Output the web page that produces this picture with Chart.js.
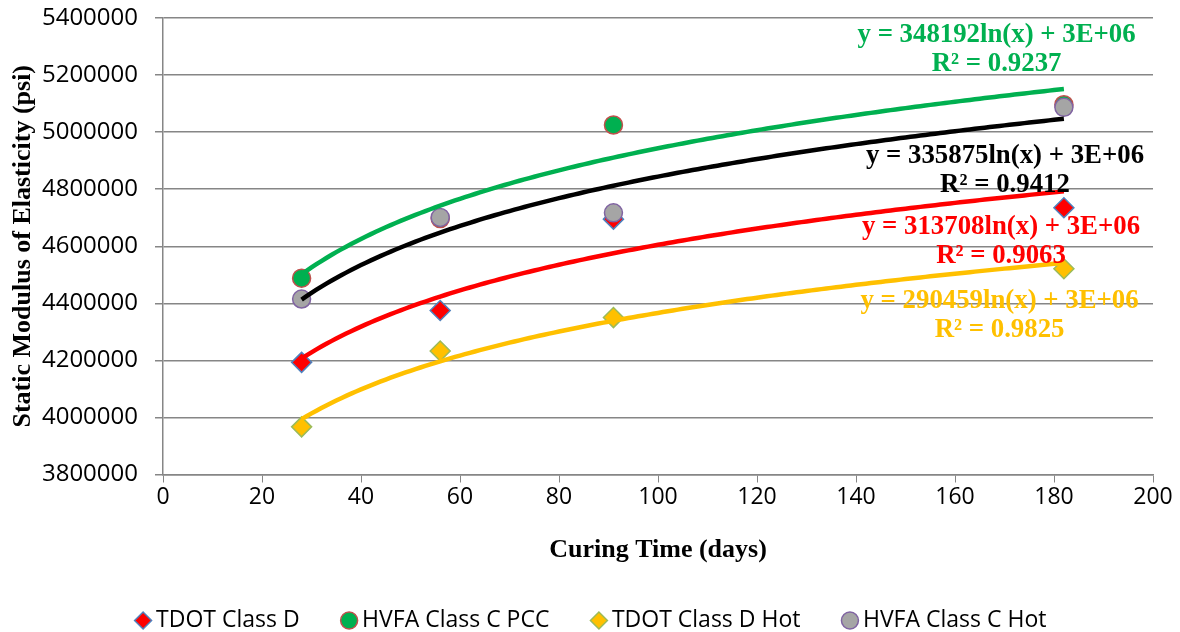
<!DOCTYPE html>
<html>
<head>
<meta charset="utf-8">
<script src="https://cdn.jsdelivr.net/npm/chart.js@4.4.1/dist/chart.umd.min.js"></script>
<style>
html,body{margin:0;padding:0;background:#fff;}
#wrap{width:1180px;height:632px;position:relative;}
</style>
</head>
<body>
<div id="wrap"><canvas id="c" width="1180" height="632"></canvas></div>
<script>
// Curing time (days)
const curingDays = [28, 56, 91, 182];
// Static modulus of elasticity (psi)
const tdotClassD    = [4193000, 4375000, 4695000, 4735000];
const hvfaClassCPCC = [4488000, 4697000, 5025000, 5096000];
const tdotClassDHot = [3967000, 4233000, 4350000, 4521000];
const hvfaClassCHot = [4415000, 4701000, 4717000, 5087000];

const seriesNames = ['TDOT Class D', 'HVFA Class C PCC', 'TDOT Class D Hot', 'HVFA Class C Hot'];
const seriesValues = [tdotClassD, hvfaClassCPCC, tdotClassDHot, hvfaClassCHot];

// Trendline equation labels (as printed on the chart)
const trendLabels = [
  ['y = 313708ln(x) + 3E+06', 'R² = 0.9063'],
  ['y = 348192ln(x) + 3E+06', 'R² = 0.9237'],
  ['y = 290459ln(x) + 3E+06', 'R² = 0.9825'],
  ['y = 335875ln(x) + 3E+06', 'R² = 0.9412']
];
// label anchor positions in data units [day, psi]
const trendLabelAnchors = [[169.3, 4666000], [168.4, 5340000], [169, 4407000], [170.1, 4916000]];

const yTicks = [3800000, 4000000, 4200000, 4400000, 4600000, 4800000, 5000000, 5200000, 5400000];

const markerStyles = [
  {shape:'rectRot', fill:'#FF0000', border:'#4F81BD', r:10},
  {shape:'circle', fill:'#00B050', border:'#C0504D', r:9},
  {shape:'rectRot', fill:'#FFC000', border:'#9BBB59', r:10},
  {shape:'circle', fill:'#A5A5A5', border:'#8064A2', r:9}
];
const trendColors = ['#FF0000', '#00B050', '#FFC000', '#000000'];

// logarithmic least-squares trendline derived from the data
function logFit(xs, ys) {
  const lx = xs.map(Math.log);
  const n = xs.length;
  const mx = lx.reduce((a,b)=>a+b,0)/n;
  const my = ys.reduce((a,b)=>a+b,0)/n;
  let sxy=0, sxx=0;
  for (let i=0;i<n;i++){ sxy+=(lx[i]-mx)*(ys[i]-my); sxx+=(lx[i]-mx)*(lx[i]-mx); }
  const a = sxy/sxx; const b = my - a*mx;
  const pts = [];
  const x0 = Math.min(...xs), x1 = Math.max(...xs);
  for (let x = x0; x <= x1; x += 1) pts.push({x: x, y: a*Math.log(x)+b});
  return pts;
}

const datasets = [];
seriesValues.forEach((vals, i) => {
  const m = markerStyles[i];
  datasets.push({
    label: seriesNames[i],
    data: curingDays.map((d, k) => ({x: d, y: vals[k]})),
    showLine: false,
    pointStyle: m.shape,
    pointRadius: m.r,
    pointHoverRadius: m.r,
    pointBackgroundColor: m.fill,
    pointBorderColor: m.border,
    pointBorderWidth: 1.5,
    backgroundColor: m.fill,
    borderColor: m.border,
    order: 14 - i
  });
});
seriesValues.forEach((vals, i) => {
  datasets.push({
    label: 'trend-' + i,
    data: logFit(curingDays, vals),
    showLine: true,
    pointRadius: 0,
    borderColor: trendColors[i],
    borderWidth: 4.5,
    tension: 0,
    fill: false,
    order: 4 - i
  });
});

const trendLabelPlugin = {
  id: 'trendLabels',
  afterDatasetsDraw(chart) {
    const ctx = chart.ctx;
    const xs = chart.scales.x, ys = chart.scales.y;
    ctx.save();
    ctx.font = 'bold 26.8px "Liberation Serif", "Times New Roman", serif';
    ctx.textAlign = 'center';
    ctx.textBaseline = 'middle';
    trendLabels.forEach((lines, i) => {
      const px = xs.getPixelForValue(trendLabelAnchors[i][0]);
      const py = ys.getPixelForValue(trendLabelAnchors[i][1]);
      ctx.fillStyle = trendColors[i];
      lines.forEach((t, k) => ctx.fillText(t, px, py + k * 29));
    });
    ctx.restore();
  }
};

// center the legend over the whole canvas width (as in the original)
const legendShiftPlugin = {
  id: 'legendShift',
  afterLayout(chart) {
    const lg = chart.legend;
    if (!lg) return;
    const w = lg.right - lg.left;
    lg.left = (chart.width - w) / 2 + 4;
    lg.right = lg.left + w;
  }
};

const gridColor = '#868686';
const tickFont = '"Open Sans", "Liberation Sans", sans-serif';
new Chart(document.getElementById('c'), {
  type: 'scatter',
  data: { datasets },
  options: {
    responsive: false,
    animation: false,
    events: [],
    layout: { padding: { left: 8, right: 27, top: 18, bottom: -10 } },
    plugins: {
      tooltip: { enabled: false },
      legend: {
        position: 'bottom',
        labels: {
          usePointStyle: true,
          boxWidth: 3,
          boxHeight: 12,
          padding: 48,
          color: '#000',
          font: { family: tickFont, size: 23 },
          generateLabels(chart) {
            return chart.data.datasets
              .map((ds, i) => ({
                text: ds.label,
                fillStyle: ds.pointBackgroundColor,
                strokeStyle: ds.pointBorderColor,
                lineWidth: 1.5,
                pointStyle: ds.pointStyle,
                hidden: false,
                datasetIndex: i,
                fontColor: '#000'
              }))
              .filter(item => !String(item.text).startsWith('trend-'));
          }
        }
      }
    },
    scales: {
      x: {
        type: 'linear',
        min: 0, max: 200,
        afterFit(scale) { scale.height = 86.5; },
        ticks: { stepSize: 20, color: '#000', padding: 1,
          font: { family: tickFont, size: 23 } },
        grid: { display: true, drawOnChartArea: false, drawTicks: true, tickLength: 8, color: gridColor, lineWidth: 1 },
        border: { display: true, color: gridColor, width: 1.5 },
        title: { display: true, text: 'Curing Time (days)', color: '#000', padding: { top: 4, bottom: 0 },
          font: { family: '"Liberation Serif", "Times New Roman", serif', size: 26, weight: 'bold', lineHeight: 0.8 } }
      },
      y: {
        type: 'linear',
        min: 3800000, max: 5400000,
        afterBuildTicks(scale) { scale.ticks = yTicks.map(v => ({value: v})); },
        afterFit(scale) { scale.width = 155; scale.paddingTop = 0; scale.paddingBottom = 0; },
        ticks: { color: '#000', padding: 17,
          callback: v => String(v),
          font: { family: tickFont, size: 24 } },
        grid: { color: gridColor, lineWidth: 1.5, tickLength: 8, drawTicks: true },
        border: { display: true, color: gridColor, width: 1.5 },
        title: { display: true, text: 'Static Modulus of Elasticity (psi)', color: '#000', padding: { top: 0, bottom: 0 },
          font: { family: '"Liberation Serif", "Times New Roman", serif', size: 26, weight: 'bold' } }
      }
    }
  },
  plugins: [trendLabelPlugin, legendShiftPlugin]
});
</script>
</body>
</html>
